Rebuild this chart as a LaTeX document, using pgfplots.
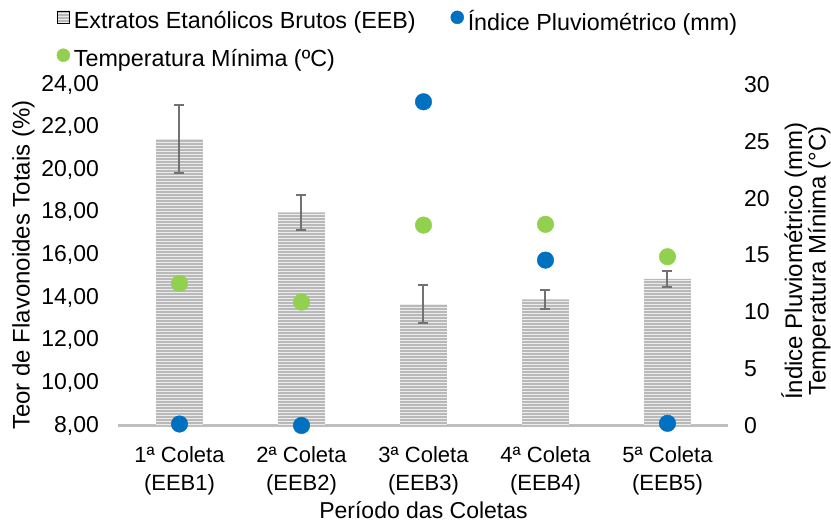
\documentclass[border=0pt]{standalone}
\usepackage{fontspec}
\setmainfont{Liberation Sans}
\usepackage{pgfplots}
\pgfplotsset{compat=1.18}
\usetikzlibrary{patterns}
\definecolor{bluept}{HTML}{0070C0}
\definecolor{greenpt}{HTML}{92D050}
\definecolor{errgray}{HTML}{767171}
\definecolor{axgray}{HTML}{BFBFBF}
\newcommand{\ticksize}{\fontsize{23}{27}\selectfont}
\pgfplotsset{
  dotlegend/.style={legend image code/.code={\draw[##1, mark size=6.5pt] plot coordinates {(6.5pt,0.35em)};}},
  bluelegend/.style={legend image code/.code={\draw[##1, mark size=6.5pt] plot coordinates {(11pt,0.35em)};}},
  barlegend/.style={legend image code/.code={\draw[fill=gray!55, draw=none, postaction={pattern=horizontal lines, pattern color=white!85!gray}] (0pt,-6.35pt+0.35em) rectangle (12.7pt,6.35pt+0.35em);}},
  common/.style={
    scale only axis, width=610pt, height=341pt,
    xmin=-0.5, xmax=4.5,
    tick style={draw=none},
    /pgf/number format/assume math mode=true,
    tick label style={font=\ticksize},
    label style={font=\fontsize{24}{22}\selectfont},
  }
}
\begin{document}
\begin{tikzpicture}[font=\fontsize{23}{27}\selectfont]
\path[use as bounding box] (-118.5pt,-98.5pt) rectangle (712.5pt,425.5pt);
\begin{axis}[common,
  axis x line*=bottom, axis y line*=left,
  x axis line style={draw=axgray, line width=2.5pt, -},
  y axis line style={draw=none},
  ymin=8, ymax=24, ytick={8,10,...,24},
  yticklabel style={xshift=-16pt, /pgf/number format/fixed, /pgf/number format/fixed zerofill, /pgf/number format/precision=2, /pgf/number format/use comma},
  xtick={0,1,2,3,4},
  xticklabels={{1ª Coleta\\(EEB1)},{2ª Coleta\\(EEB2)},{3ª Coleta\\(EEB3)},{4ª Coleta\\(EEB4)},{5ª Coleta\\(EEB5)}},
  xticklabel style={align=center, font=\fontsize{22}{28}\selectfont, yshift=-18pt},
  xlabel={Período das Coletas},
  every axis x label/.style={at={(axis description cs:0.5,-0.272)}, anchor=base, font=\fontsize{23}{27}\selectfont},
  ylabel={Teor de Flavonoides Totais (\%)},
  every axis y label/.style={at={(axis description cs:-0.156,0.47)}, rotate=90, anchor=center, font=\fontsize{24}{27}\selectfont},
]
\addplot[ybar, bar width=46.7pt, fill=gray!55, draw=none,
  postaction={pattern=horizontal lines, pattern color=white!85!gray},
  error bars/.cd, y dir=both, y explicit,
  error bar style={line width=2pt, errgray},
  error mark options={rotate=90, mark size=5pt, line width=2pt, errgray}]
coordinates {(0,21.43) +- (0,1.6) (1,18.0) +- (0,0.83) (2,13.7) +- (0,0.89) (3,13.92) +- (0,0.45) (4,14.88) +- (0,0.36)};
\end{axis}
\begin{axis}[common,
  hide x axis,
  axis y line*=right,
  y axis line style={draw=none},
  ymin=0, ymax=30, ytick={0,5,...,30},
  yticklabel style={xshift=12pt},
  clip=false,
  ylabel={Índice Pluviométrico (mm)\\Temperatura Mínima (°C)},
  every axis y label/.style={at={(axis description cs:1.127,0.482)}, rotate=90, anchor=center, align=center, font=\fontsize{24}{21}\selectfont},
  legend columns=2,
  legend cell align=left,
  legend style={at={(axis description cs:-0.1013,1.2185)}, anchor=north west, draw=none, fill=none,
    inner sep=0pt, outer sep=0pt,
    font=\fontsize{23.3}{27}\selectfont,
    nodes={inner ysep=0pt, inner xsep=4pt},
    /tikz/every even column/.append style={column sep=31pt},
    /tikz/row sep=17pt},
]
\addlegendimage{barlegend}
\addlegendentry{Extratos Etanólicos Brutos (EEB)}
\addplot[only marks, mark=*, mark size=8.3pt, bluept, bluelegend]
coordinates {(0,0.13) (1,0) (2,28.48) (3,14.55) (4,0.19)};
\addlegendentry{Índice Pluviométrico (mm)}
\addplot[only marks, mark=*, mark size=8.3pt, greenpt, dotlegend]
coordinates {(0,12.5) (1,10.86) (2,17.63) (3,17.7) (4,14.85)};
\addlegendentry{Temperatura Mínima (ºC)}
\end{axis}
\end{tikzpicture}
\end{document}
